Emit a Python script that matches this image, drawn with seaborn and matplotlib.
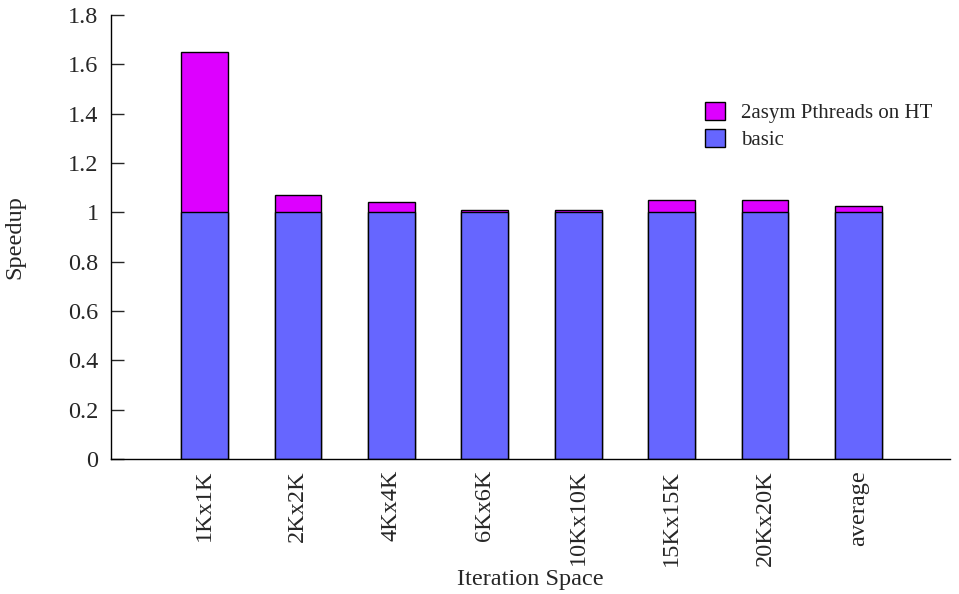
import matplotlib
matplotlib.use("Agg")
import matplotlib.pyplot as plt
import seaborn as sns
import pandas as pd
from matplotlib.patches import Patch

categories = ["1Kx1K", "2Kx2K", "4Kx4K", "6Kx6K", "10Kx10K", "15Kx15K", "20Kx20K", "average"]
basic = [1.0, 1.0, 1.0, 1.0, 1.0, 1.0, 1.0, 1.0]
total_ht = [1.65, 1.07, 1.04, 1.01, 1.01, 1.05, 1.05, 1.025]
series_names = ["2asym Pthreads on HT", "basic"]
yticks = [0, 0.2, 0.4, 0.6, 0.8, 1, 1.2, 1.4, 1.6, 1.8]

sns.set_style("white")
plt.rcParams['font.family'] = ['Liberation Serif', 'DejaVu Serif']
FS = 17.5

df = pd.DataFrame({"cat": categories, "basic": basic, "total": total_ht})

fig = plt.figure(figsize=(9.59, 5.94), dpi=100)
ax = fig.add_axes([111/959, 1-459/594, (950-111)/959, (459-15)/594])

sns.barplot(data=df, x="cat", y="total", color="#DD00FF", saturation=1, width=0.5,
            edgecolor="black", linewidth=1, ax=ax)
sns.barplot(data=df, x="cat", y="basic", color="#6666FF", saturation=1, width=0.5,
            edgecolor="black", linewidth=1, ax=ax)

ax.set_xlim(-1, 7.98)
ax.set_ylim(0, 1.8)
ax.set_yticks(yticks)
ax.set_yticklabels([f"{t:g}" for t in yticks])
ax.tick_params(axis="y", direction="in", length=9, width=1, left=True, labelsize=FS, pad=9)
ax.tick_params(axis="x", length=0, labelsize=FS, pad=8)
for lbl in ax.get_xticklabels():
    lbl.set_rotation(90)
    lbl.set_va("top")
    lbl.set_ha("center")

for s in ["top", "right"]:
    ax.spines[s].set_visible(False)
for s in ["left", "bottom"]:
    ax.spines[s].set_color("black")
    ax.spines[s].set_linewidth(1)

ax.set_xlabel("Iteration Space", fontsize=FS, labelpad=2)
ax.set_ylabel("Speedup", fontsize=FS, labelpad=31)

handles = [Patch(facecolor="#DD00FF", edgecolor="black", linewidth=1),
           Patch(facecolor="#6666FF", edgecolor="black", linewidth=1)]
ax.legend(handles, series_names, loc="upper left", bbox_to_anchor=(0.708, 0.805),
          frameon=False, fontsize=15, handlelength=0.95, handleheight=0.95,
          handletextpad=0.8, labelspacing=0.3, borderaxespad=0, borderpad=0)

fig.savefig("out.png", dpi=100)
